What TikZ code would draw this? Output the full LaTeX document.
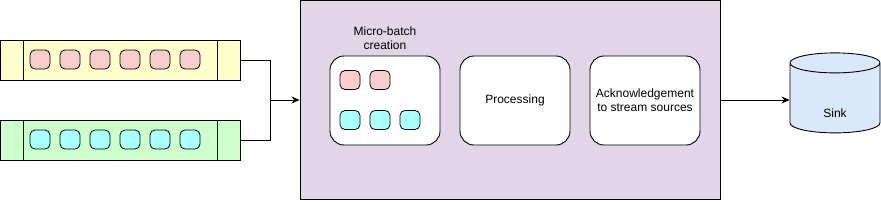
\documentclass[tikz,border=0pt]{standalone}
\usepackage{fontspec}
\setmainfont{Liberation Sans}
\usetikzlibrary{shapes.geometric, arrows.meta, positioning}
\definecolor{queueyellow}{RGB}{255, 255, 204}
\definecolor{queuegreen}{RGB}{204, 255, 204}
\definecolor{itempink}{RGB}{248, 206, 204}
\definecolor{itemcyan}{RGB}{170, 255, 255}
\definecolor{stagepurple}{RGB}{225, 213, 231}
\definecolor{sinkblue}{RGB}{218, 232, 252}
\tikzset{
  queue/.style={rectangle, draw, line width=0.9pt, minimum width=240pt,
    minimum height=40pt, inner sep=0pt},
  item/.style={rectangle, rounded corners=5pt, draw, line width=0.8pt,
    minimum width=20pt, minimum height=19pt, inner sep=0pt},
  phase/.style={rectangle, rounded corners=14pt, draw, fill=white,
    line width=0.9pt, minimum width=110pt, minimum height=89pt,
    text centered, align=center, font=\fontsize{12}{14}\selectfont},
  arrow/.style={-{Stealth[length=8pt, width=7pt]}, line width=0.9pt}
}
\begin{document}
\begin{tikzpicture}[x=1pt, y=-1pt]
\useasboundingbox (0,0) rectangle (881,201);
% input streams
\node (qtop) [queue, fill=queueyellow] at (120,60)  {};
\node (qbot) [queue, fill=queuegreen]  at (120,140) {};
\foreach \q in {qtop, qbot} {
  \draw[line width=0.9pt] ([xshift=24pt]\q.north west) -- ([xshift=24pt]\q.south west);
  \draw[line width=0.9pt] ([xshift=-23pt]\q.north east) -- ([xshift=-23pt]\q.south east);
}
\foreach \i in {0,...,5} {
  \node (tp\i) [item, fill=itempink] at (40+30*\i, 59.5)  {};
  \node (bc\i) [item, fill=itemcyan] at (40+30*\i, 139.5) {};
}
% streaming engine
\node (stage) [rectangle, draw, line width=0.9pt, fill=stagepurple,
  minimum width=420pt, minimum height=199pt] at (510,100) {};
\node (batch) [phase] at (385,100.5) {};
\node (batchlbl) [above=2pt of batch, align=center,
  font=\fontsize{12}{14}\selectfont] {Micro-batch\\creation};
\node (proc)  [phase] at (515,100.5) {Processing};
\node (ack)   [phase] at (645,100.5) {Acknowledgement\\to stream sources};
\foreach \i in {0,1} \node (mp\i) [item, fill=itempink] at (350+30*\i, 80) {};
\foreach \i in {0,1,2} \node (mc\i) [item, fill=itemcyan] at (350+30*\i, 120) {};
% sink
\node (sink) [cylinder, shape border rotate=90, aspect=3, draw,
  line width=0.9pt, fill=sinkblue, minimum width=90pt, minimum height=80pt,
  font=\fontsize{12}{14}\selectfont] at (835,100) {};
\node (sinklbl) [font=\fontsize{12}{14}\selectfont] at (835,113) {Sink};
% connectors
\coordinate (merge) at (270,100);
\draw[line width=0.9pt] (qtop.east) -| (merge);
\draw[line width=0.9pt] (qbot.east) -| (merge);
\draw[arrow] (merge) -- (stage.west);
\draw[arrow] (stage.east) -- (sink.west);
\end{tikzpicture}
\end{document}
